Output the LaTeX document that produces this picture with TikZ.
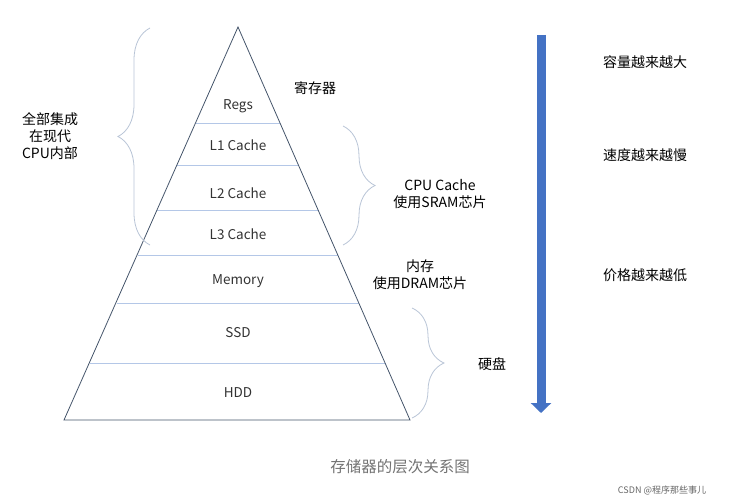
\documentclass[tikz,border=0pt]{standalone}
\usepackage{fontspec}
\setmainfont{Noto Sans CJK SC}
\usetikzlibrary{arrows.meta,positioning,decorations.pathreplacing}
\definecolor{edgeC}{HTML}{44546A}
\definecolor{layerC}{HTML}{B4C7E7}
\definecolor{braceC}{HTML}{B8C4D6}
\definecolor{arrowC}{HTML}{4472C4}
\begin{document}
\begin{tikzpicture}[x=1pt,y=-1pt,font=\fontsize{13.5}{16}\selectfont]
  \tikzstyle{layer}=[draw=layerC,thick]
  \tikzstyle{level}=[text=black!80]
  \tikzstyle{note}=[text=black,align=center,font=\fontsize{14}{17}\selectfont]
  \tikzstyle{curly}=[draw=braceC,thick,decorate]
  \useasboundingbox (0,0) rectangle (733,500);

  % pyramid
  \coordinate (apex) at (238,27);
  \coordinate (bl) at (64,420);
  \coordinate (br) at (410,420);
  \foreach \y/\n in {123/a,165/b,210/c,255/d,303/e,363/f}{
    \pgfmathsetmacro{\h}{0.44*(\y-27)}
    \coordinate (l\n) at ({238-\h},\y);
    \coordinate (r\n) at ({238+\h},\y);
    \draw[layer] (l\n) -- (r\n);
  }
  \draw[edgeC,thick] (apex) -- (bl) -- (br) -- cycle;

  \node[level] (regs) at (238,106) {Regs};
  \node[level] (l1) at (238,145) {L1 Cache};
  \node[level] (l2) at (238,193) {L2 Cache};
  \node[level] (l3) at (238,234) {L3 Cache};
  \node[level] (mem) at (238,281) {Memory};
  \node[level] (ssd) at (238,333) {SSD};
  \node[level] (hdd) at (238,393) {HDD};

  % braces and notes
  \coordinate (b1t) at (150,28);
  \coordinate (b1b) at (150,245);
  \draw[curly,decoration={brace,amplitude=32pt}] (b1b) -- (b1t);
  \node[note] (cpu) at (50,136) {全部集成\\在现代\\CPU内部};
  \node[note] (reg) at (315,88) {寄存器};
  \coordinate (b2t) at (343,126);
  \coordinate (b2b) at (343,245);
  \draw[curly,decoration={brace,amplitude=32pt}] (b2t) -- (b2b);
  \node[note] (cache) at (440,194) {CPU Cache\\使用SRAM芯片};
  \node[note] (dram) at (420,275) {内存\\使用DRAM芯片};
  \coordinate (b3t) at (412,308);
  \coordinate (b3b) at (412,418);
  \draw[curly,decoration={brace,amplitude=32pt}] (b3t) -- (b3b);
  \node[note] (disk) at (492,364) {硬盘};

  % arrow
  \coordinate (at) at (541,35);
  \coordinate (ab) at (541,413);
  \draw[arrowC,line width=9pt,-{Triangle[width=20pt,length=10pt]}] (at) -- (ab);
  \node[note] (cap) at (645,62) {容量越来越大};
  \node[note] (spd) at (645,155) {速度越来越慢};
  \node[note] (price) at (645,275) {价格越来越低};

  % caption
  \node[text=black!55,font=\fontsize{15.5}{18}\selectfont] (title) at (400,467) {存储器的层次关系图};
  \node[text=black!60,font=\fontsize{9}{11}\selectfont] (mark) at (662,490) {CSDN @程序那些事儿};
\end{tikzpicture}
\end{document}
